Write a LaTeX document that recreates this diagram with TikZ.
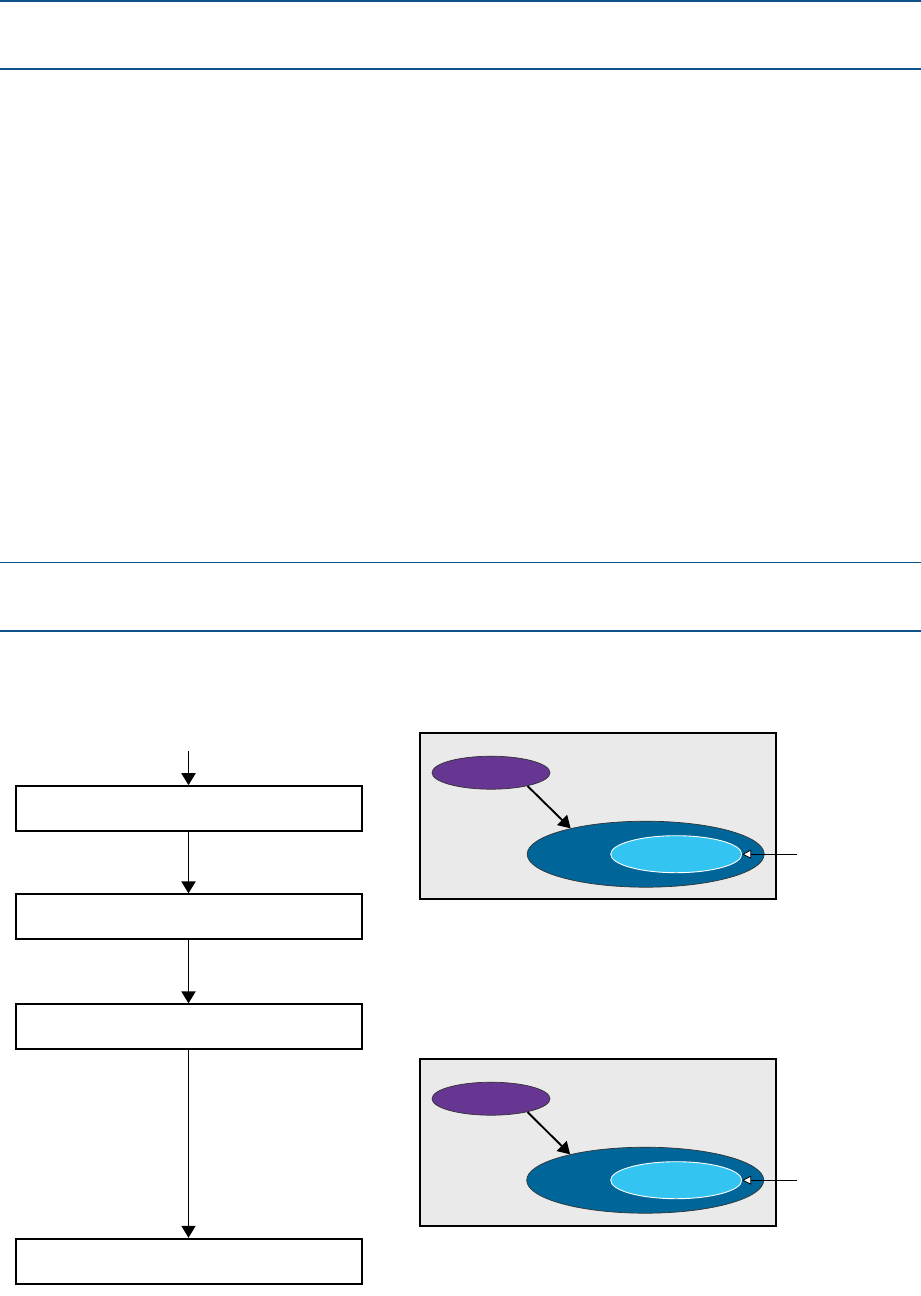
\documentclass[tikz,border=0pt]{standalone}
\usepackage{tikz}
\usetikzlibrary{shapes.geometric, positioning, arrows.meta, calc}

\definecolor{ruleblue}{RGB}{14,82,140}
\definecolor{panelgray}{RGB}{234,234,234}
\definecolor{srcpurple}{RGB}{103,54,146}
\definecolor{outerblue}{RGB}{0,102,153}
\definecolor{innerblue}{RGB}{51,196,242}

\begin{document}
\begin{tikzpicture}[x=1pt,y=-1pt]
\tikzset{flowbox/.style={draw, rectangle, line width=2pt, minimum width=346pt, minimum height=45pt, inner sep=0pt},
  panel/.style={draw, rectangle, line width=2pt, fill=panelgray, minimum width=356pt, inner sep=0pt},
  src/.style={draw=black!80, ellipse, fill=srcpurple, line width=0.7pt, minimum width=118pt, minimum height=33pt, inner sep=0pt},
  outer/.style={draw=black!80, ellipse, fill=outerblue, line width=0.7pt, minimum width=237pt, minimum height=66pt, inner sep=0pt},
  inner/.style={draw=white, ellipse, fill=innerblue, line width=0.9pt, minimum width=131pt, minimum height=37pt, inner sep=0pt},
  sepline/.style={draw=ruleblue, line width=1.4pt},
  flow/.style={-{Triangle[length=12pt,width=14pt]}, line width=1.9pt},
  ptr/.style={-{Triangle[fill=white,length=9pt,width=9pt]}, line width=0.8pt}}
\useasboundingbox (0,0) rectangle (921,1296);
% separator lines
\draw[sepline] (0,0.8) -- (921,0.8); \draw[sepline] (0,69) -- (921,69);
\draw[sepline] (0,562.3) -- (921,562.3); \draw[sepline] (0,631) -- (921,631);
% flow chart
\coordinate (IN) at (188.5,751);
\node[flowbox] (B1) at (188.5,808.7) {};
\node[flowbox] (B2) at (188.5,916.9) {};
\node[flowbox] (B3) at (188.5,1026.9) {};
\node[flowbox] (B4) at (188.5,1261.3) {};
\draw[flow] (IN) -- (B1); \draw[flow] (B1) -- (B2); \draw[flow] (B2) -- (B3); \draw[flow] (B3) -- (B4);
% upper panel
\node[panel, minimum height=166pt] (P1) at (598,816.3) {};
\node[src] (S1) at (491,772.7) {};
\node[outer] (O1) at (645.7,854.2) {};
\node[inner] (L1) at (676.2,854.2) {};
\coordinate (T1) at (797,854.2);
\draw[flow] (S1.-20) -- (O1.161); \draw[ptr] (T1) -- (L1.east);
% lower panel
\node[panel, minimum height=167pt] (P2) at (598,1142.2) {};
\node[src] (S2) at (491,1098.7) {};
\node[outer] (O2) at (645.2,1180.2) {};
\node[inner] (L2) at (676.2,1180.2) {};
\coordinate (T2) at (797,1180.2);
\draw[flow] (S2.-20) -- (O2.161); \draw[ptr] (T2) -- (L2.east);
\end{tikzpicture}
\end{document}
